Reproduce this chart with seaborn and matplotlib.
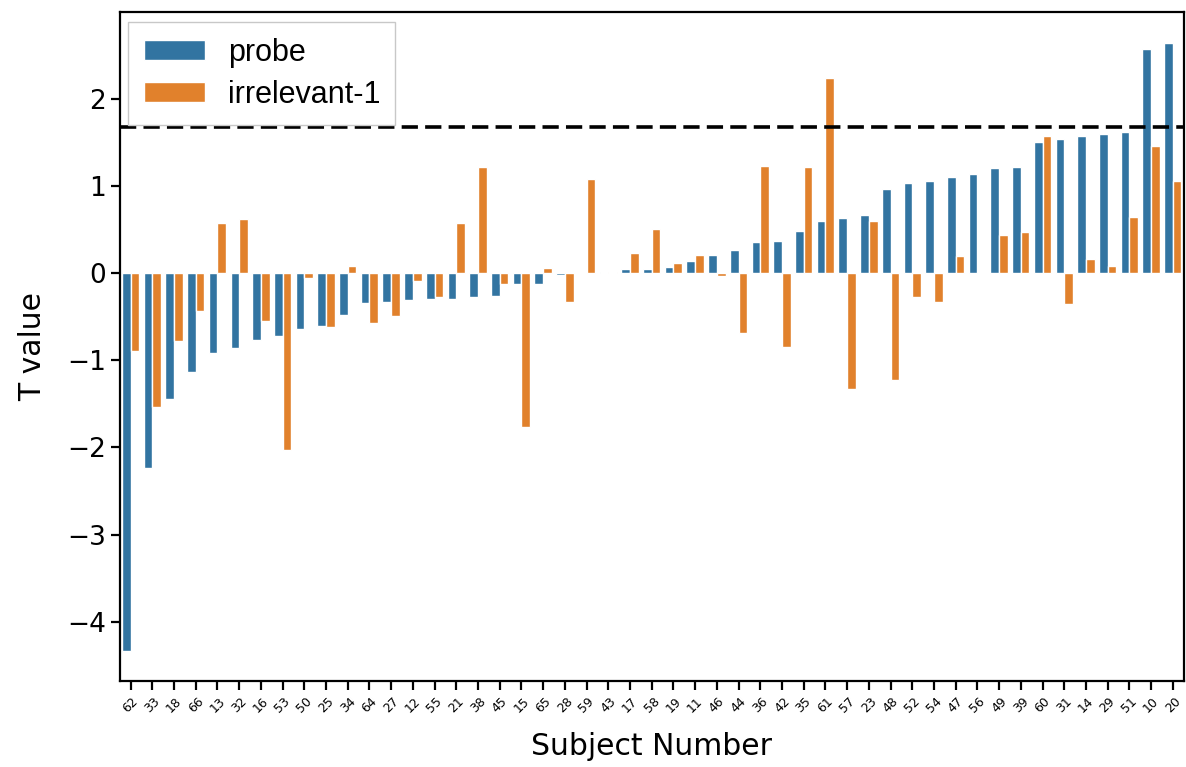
import matplotlib
matplotlib.use("Agg")
import matplotlib.pyplot as plt
import seaborn as sns
import pandas as pd

subjects = ["62", "33", "18", "66", "13", "32", "16", "53", "50", "25",
            "34", "64", "27", "12", "55", "21", "38", "45", "15", "65",
            "28", "59", "43", "17", "58", "19", "11", "46", "44", "36",
            "42", "35", "61", "57", "23", "48", "52", "54", "47", "56",
            "49", "39", "60", "31", "14", "29", "51", "10", "20"]

probe = [-4.33, -2.23, -1.45, -1.13, -0.92, -0.86, -0.77, -0.72, -0.64, -0.61,
         -0.48, -0.34, -0.33, -0.31, -0.30, -0.30, -0.27, -0.26, -0.13, -0.13,
         -0.02, 0.005, 0.01, 0.04, 0.05, 0.07, 0.14, 0.21, 0.26, 0.35,
         0.37, 0.48, 0.60, 0.63, 0.66, 0.96, 1.03, 1.05, 1.10, 1.14,
         1.20, 1.21, 1.50, 1.54, 1.57, 1.59, 1.62, 2.57, 2.64]

irrelevant = [-0.89, -1.54, -0.78, -0.44, 0.57, 0.62, -0.55, -2.03, -0.06, -0.62,
              0.08, -0.57, -0.49, -0.09, -0.28, 0.57, 1.22, -0.13, -1.77, 0.06,
              -0.33, 1.08, 0.01, 0.23, 0.50, 0.11, 0.21, -0.04, -0.69, 1.23,
              -0.85, 1.22, 2.23, -1.33, 0.60, -1.23, -0.28, -0.33, 0.20, 0.005,
              0.44, 0.47, 1.57, -0.35, 0.16, 0.08, 0.64, 1.46, 1.05]

series_names = ["probe", "irrelevant-1"]
threshold = 1.677

df = pd.DataFrame({
    "Subject": subjects * 2,
    "T": probe + irrelevant,
    "Condition": [series_names[0]] * len(subjects) + [series_names[1]] * len(subjects),
})

sns.set_style("ticks")
plt.rcParams["font.family"] = ["DejaVu Sans"]
plt.rcParams["text.color"] = "black"
plt.rcParams["axes.labelcolor"] = "black"
plt.rcParams["xtick.color"] = "black"
plt.rcParams["ytick.color"] = "black"

fig = plt.figure(figsize=(11.86, 7.67), dpi=100)
ax = fig.add_axes([0.101, 0.112, 0.897, 0.872])

sns.barplot(data=df, x="Subject", y="T", hue="Condition", order=subjects,
            hue_order=series_names, ax=ax)

ax.axhline(threshold, color="black", linestyle="--", linewidth=2.6, dashes=(4.5, 2))

for s in ["top", "right", "left", "bottom"]:
    ax.spines[s].set_visible(True)
    ax.spines[s].set_linewidth(1.6)
    ax.spines[s].set_color("black")

ax.set_xlabel("Subject Number", fontsize=21.5, labelpad=12)
ax.set_ylabel("T value", fontsize=21.5, labelpad=14)
ax.tick_params(axis="y", labelsize=19, width=1.6, length=6.5)
ax.tick_params(axis="x", labelsize=9, width=1.6, length=6.5)
for lab in ax.get_xticklabels():
    lab.set_rotation(45)
ax.set_yticks([-4, -3, -2, -1, 0, 1, 2])

leg = ax.legend(loc="upper left", prop={"family": "Liberation Sans", "size": 22},
                handlelength=2.0, handleheight=0.65,
                borderpad=0.5, labelspacing=0.4, handletextpad=0.75,
                fancybox=False, framealpha=1, edgecolor="#c8c8c8",
                bbox_to_anchor=(0.008, 0.985), borderaxespad=0)
leg.get_frame().set_linewidth(1.0)
leg.set_title(None)

fig.savefig("out.png", dpi=100)
